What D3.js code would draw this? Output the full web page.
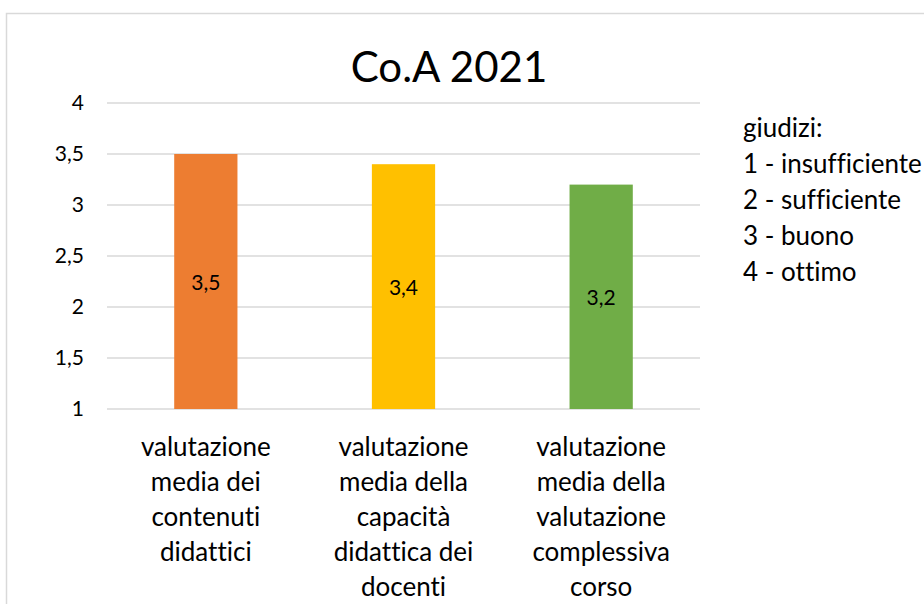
<!DOCTYPE html>
<html>
<head>
<meta charset="utf-8">
<script src="https://cdn.jsdelivr.net/npm/d3@7"></script>
<style>
body { margin: 0; background: #fff; }
text { font-family: Lato, "Open Sans", sans-serif; fill: #000; font-variant-ligatures: none; }
.grid line { stroke: #d9d9d9; stroke-width: 1.5px; }
</style>
</head>
<body>
<div id="chart"></div>
<script>
const categories = [
    ["valutazione", "media dei", "contenuti", "didattici"],
    ["valutazione", "media della", "capacità", "didattica dei", "docenti"],
    ["valutazione", "media della", "valutazione", "complessiva", "corso"]
];
const values = [3.5, 3.4, 3.2];
const colors = ["#ED7D31", "#FFC000", "#70AD47"];
const yTicks = [1, 1.5, 2, 2.5, 3, 3.5, 4];
const legendLines = ["giudizi:", "1 - insufficiente", "2 - sufficiente", "3 - buono", "4 - ottimo"];

const W = 924, H = 604;
const svg = d3.select("#chart").append("svg").attr("width", W).attr("height", H);

// chart frame
svg.append("rect")
    .attr("x", 6.5).attr("y", 13.5)
    .attr("width", 940).attr("height", 620)
    .attr("fill", "none").attr("stroke", "#d9d9d9").attr("stroke-width", 1.5);

svg.append("text")
    .attr("x", 449).attr("y", 82)
    .attr("text-anchor", "middle")
    .style("font-size", "42px")
    .text("Co.A 2021");

const fmt = v => String(v).replace(".", ",");

const x = d3.scaleBand().domain(d3.range(values.length)).range([107, 700]).paddingInner(0.68).paddingOuter(0.34);
const y = d3.scaleLinear().domain([1, 4]).range([409, 103]);

// gridlines
svg.append("g").attr("class", "grid")
    .selectAll("line").data(yTicks).enter().append("line")
    .attr("x1", 107).attr("x2", 700)
    .attr("y1", d => y(d)).attr("y2", d => y(d));

// y axis labels
const yAxis = d3.axisLeft(y).tickValues(yTicks).tickFormat(fmt).tickSize(0).tickPadding(0);
const ya = svg.append("g").attr("transform", "translate(84,0)").call(yAxis);
ya.select(".domain").remove();
ya.selectAll("text").style("font-size", "21px").style("font-family", "Lato, 'Open Sans', sans-serif").attr("fill", "#000");

// bars
svg.selectAll(".bar").data(values).enter().append("rect")
    .attr("class", "bar")
    .attr("x", (d, i) => x(i))
    .attr("width", x.bandwidth())
    .attr("y", d => y(d))
    .attr("height", d => y(1) - y(d))
    .attr("fill", (d, i) => colors[i]);

// value labels
svg.selectAll(".val").data(values).enter().append("text")
    .attr("class", "val")
    .attr("x", (d, i) => x(i) + x.bandwidth() / 2)
    .attr("y", d => (y(d) + y(1)) / 2 + 8)
    .attr("text-anchor", "middle")
    .style("font-size", "21px")
    .text(fmt);

// category labels
const cat = svg.selectAll(".cat").data(categories).enter().append("text")
    .attr("class", "cat")
    .attr("text-anchor", "middle")
    .style("font-size", "26px");
cat.selectAll("tspan").data((d, i) => d.map(t => ({ t, i }))).enter().append("tspan")
    .attr("x", d => x(d.i) + x.bandwidth() / 2)
    .attr("y", (d, j) => 456 + j * 35)
    .text(d => d.t);

// legend text
svg.selectAll(".leg").data(legendLines).enter().append("text")
    .attr("class", "leg")
    .attr("x", 743)
    .attr("y", (d, i) => 137 + i * 36)
    .style("font-size", "26px")
    .text(d => d);
</script>
</body>
</html>
